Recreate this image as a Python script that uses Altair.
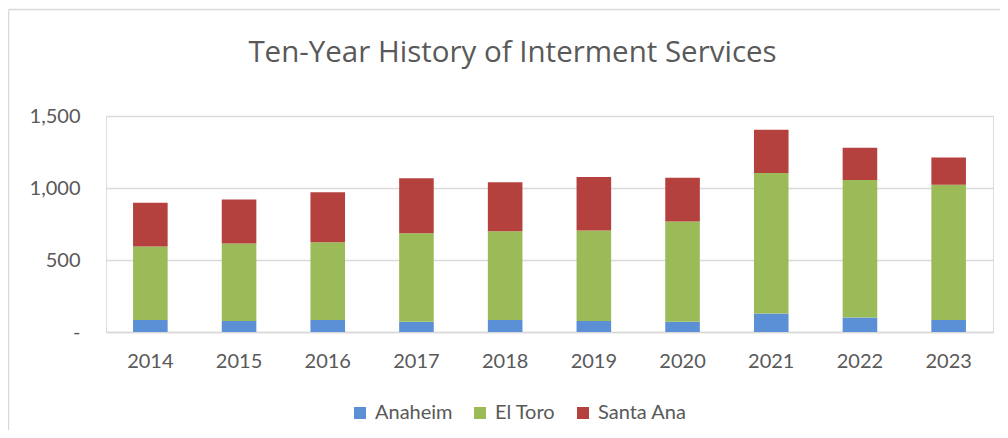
import altair as alt
import pandas as pd

years = ["2014", "2015", "2016", "2017", "2018", "2019", "2020", "2021", "2022", "2023"]
series = ["Anaheim", "El Toro", "Santa Ana"]
anaheim = [83, 76, 83, 72, 83, 76, 72, 128, 100, 83]
el_toro = [510, 538, 540, 613, 616, 628, 695, 976, 955, 940]
santa_ana = [305, 307, 347, 382, 341, 372, 305, 301, 225, 188]
colors = ["#5B8FD6", "#9BBB59", "#B5413F"]
title_text = "Ten-Year History of Interment Services"

rows = []
for i, y in enumerate(years):
    for k, (name, vals) in enumerate(zip(series, [anaheim, el_toro, santa_ana])):
        rows.append({"Year": y, "Site": name, "Services": vals[i], "order": k})
df = pd.DataFrame(rows)

FONT = "Lato"
TXT = "#595959"
GRID = "#d9d9d9"

bars = alt.Chart(df).mark_bar(stroke=None).encode(
    x=alt.X("Year:N", sort=years,
            scale=alt.Scale(paddingInner=0.61, paddingOuter=0.305),
            axis=alt.Axis(title=None, labelAngle=0, labelFont=FONT, labelFontSize=20,
                          labelColor=TXT, ticks=False, domain=True, domainColor=GRID,
                          domainWidth=1.5, labelPadding=19, grid=False)),
    y=alt.Y("Services:Q", stack="zero",
            scale=alt.Scale(domain=[0, 1500], nice=False),
            axis=alt.Axis(title=None, values=[0, 500, 1000, 1500], labelFont=FONT,
                          labelFontSize=20, labelColor=TXT, ticks=False, domain=False,
                          gridColor=GRID, gridWidth=1.5, labelPadding=26,
                          labelExpr="datum.value == 0 ? '-' : format(datum.value, ',')")),
    color=alt.Color("Site:N", sort=series,
                    scale=alt.Scale(domain=series, range=colors),
                    legend=alt.Legend(title=None, orient="none", direction="horizontal",
                                      legendX=244, legendY=287, symbolType="square",
                                      symbolSize=144, symbolStrokeWidth=0,
                                      labelFont=FONT, labelFontSize=20, labelColor=TXT,
                                      columnPadding=17, labelOffset=5)),
    order=alt.Order("order:Q"),
)

one = alt.Chart(pd.DataFrame({"t": [title_text]}))
top_line = one.mark_rule(color=GRID, strokeWidth=1.5).encode(
    x=alt.value(-97.5), x2=alt.value(1000), y=alt.value(-106.5))
left_line = one.mark_rule(color=GRID, strokeWidth=1.5).encode(
    x=alt.value(-97.5), y=alt.value(-106.5), y2=alt.value(440))
title = one.mark_text(font="Open Sans", fontSize=29.5, color=TXT,
                      align="center", baseline="alphabetic").encode(
    text="t:N", x=alt.value(406.5), y=alt.value(-54.3))

chart = alt.layer(top_line, left_line, title, bars).properties(
    width=887, height=216,
    autosize=alt.AutoSizeParams(type="none"),
    padding={"left": 98, "top": 108, "right": 7, "bottom": 98},
).configure_view(stroke=None).configure(background="white")

chart.save("out.html", embed_options={"renderer": "svg", "actions": False})
